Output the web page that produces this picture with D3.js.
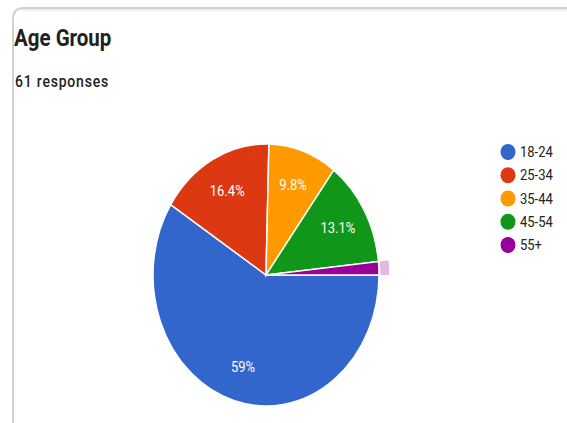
<!DOCTYPE html>
<html><head><meta charset="utf-8">
<script src="https://cdn.jsdelivr.net/npm/d3@7/dist/d3.min.js"></script>
<style>
html,body{margin:0;padding:0;background:#fff;}
svg{display:block;}
text{font-family:Roboto, "Liberation Sans", Arial, sans-serif;}
</style></head>
<body>
<script>
const categories = ["18-24", "25-34", "35-44", "45-54", "55+"];
const counts = [36, 10, 6, 8, 1];
const percentLabels = ["59%", "16.4%", "9.8%", "13.1%", ""];
const colors = ["#3366cc", "#dc3912", "#ff9900", "#109618", "#990099"];
const title = "Age Group";
const subtitle = "61 responses";
const highlighted = "55+";

const W = 567, H = 423;
const svg = d3.select("body").append("svg").attr("width", W).attr("height", H);

// card
svg.append("path")
  .attr("d", "M13,423 L13,19 Q13,8 24,8 L567,8")
  .attr("fill", "#fff").attr("stroke", "#d2d2d2").attr("stroke-width", 2);
svg.append("line").attr("x1", 22).attr("x2", W).attr("y1", 10).attr("y2", 10).attr("stroke", "#ececec").attr("stroke-width", 2);

const sy = 1.16;
svg.append("text").attr("transform", `translate(14,46) scale(1,${sy})`)
  .attr("font-size", 20.5).attr("font-weight", 700).attr("fill", "#212121").text(title);
svg.append("text").attr("transform", `translate(15,87) scale(1,${sy})`)
  .attr("font-size", 14).attr("font-weight", 500).attr("letter-spacing", 0.8).attr("fill", "#222").text(subtitle);

// pie (ellipse via scaling)
const cx = 266, cy = 275, rx = 113, ry = 131;
const pie = d3.pie().sort(null).value(d => d)
  .startAngle(Math.PI / 2).endAngle(Math.PI / 2 + 2 * Math.PI);
const arcs = pie(counts);
const unitArc = d3.arc().innerRadius(0).outerRadius(1);
const ringArc = d3.arc().innerRadius(1.012).outerRadius(1.09);
const g = svg.append("g").attr("transform", `translate(${cx},${cy}) scale(${rx},${ry})`);

g.selectAll("path.slice").data(arcs).enter().append("path")
  .attr("class", "slice")
  .attr("d", unitArc)
  .attr("fill", (d, i) => colors[i])
  .attr("stroke", "#fff").attr("stroke-width", 1.5)
  .attr("vector-effect", "non-scaling-stroke");

g.selectAll("path.ring").data(arcs.filter((d, i) => categories[i] === highlighted)).enter().append("path")
  .attr("class", "ring")
  .attr("d", ringArc)
  .attr("fill", colors[4]).attr("fill-opacity", 0.28);

// labels
const lf = 0.73;
svg.selectAll("text.pct").data(arcs).enter().append("text")
  .attr("class", "pct")
  .attr("transform", d => {
    const a = (d.startAngle + d.endAngle) / 2;
    const x = cx + Math.sin(a) * rx * lf;
    const y = cy - Math.cos(a) * ry * lf;
    return `translate(${x},${y + 5}) scale(1,${sy})`;
  })
  .attr("text-anchor", "middle").attr("font-size", 13).attr("font-weight", 400).attr("fill", "#fff")
  .text((d, i) => percentLabels[i]);

// legend
const ly = d3.scalePoint().domain(categories).range([152, 245]);
const leg = svg.selectAll("g.leg").data(categories).enter().append("g")
  .attr("class", "leg").attr("transform", d => `translate(508,${ly(d)})`);
leg.append("ellipse").attr("rx", 7.5).attr("ry", 8).attr("fill", (d, i) => colors[i]);
leg.append("text").attr("transform", `translate(12,5) scale(1,${sy})`)
  .attr("font-size", 13).attr("font-weight", 400).attr("fill", "#222").text(d => d);
</script>
</body></html>
